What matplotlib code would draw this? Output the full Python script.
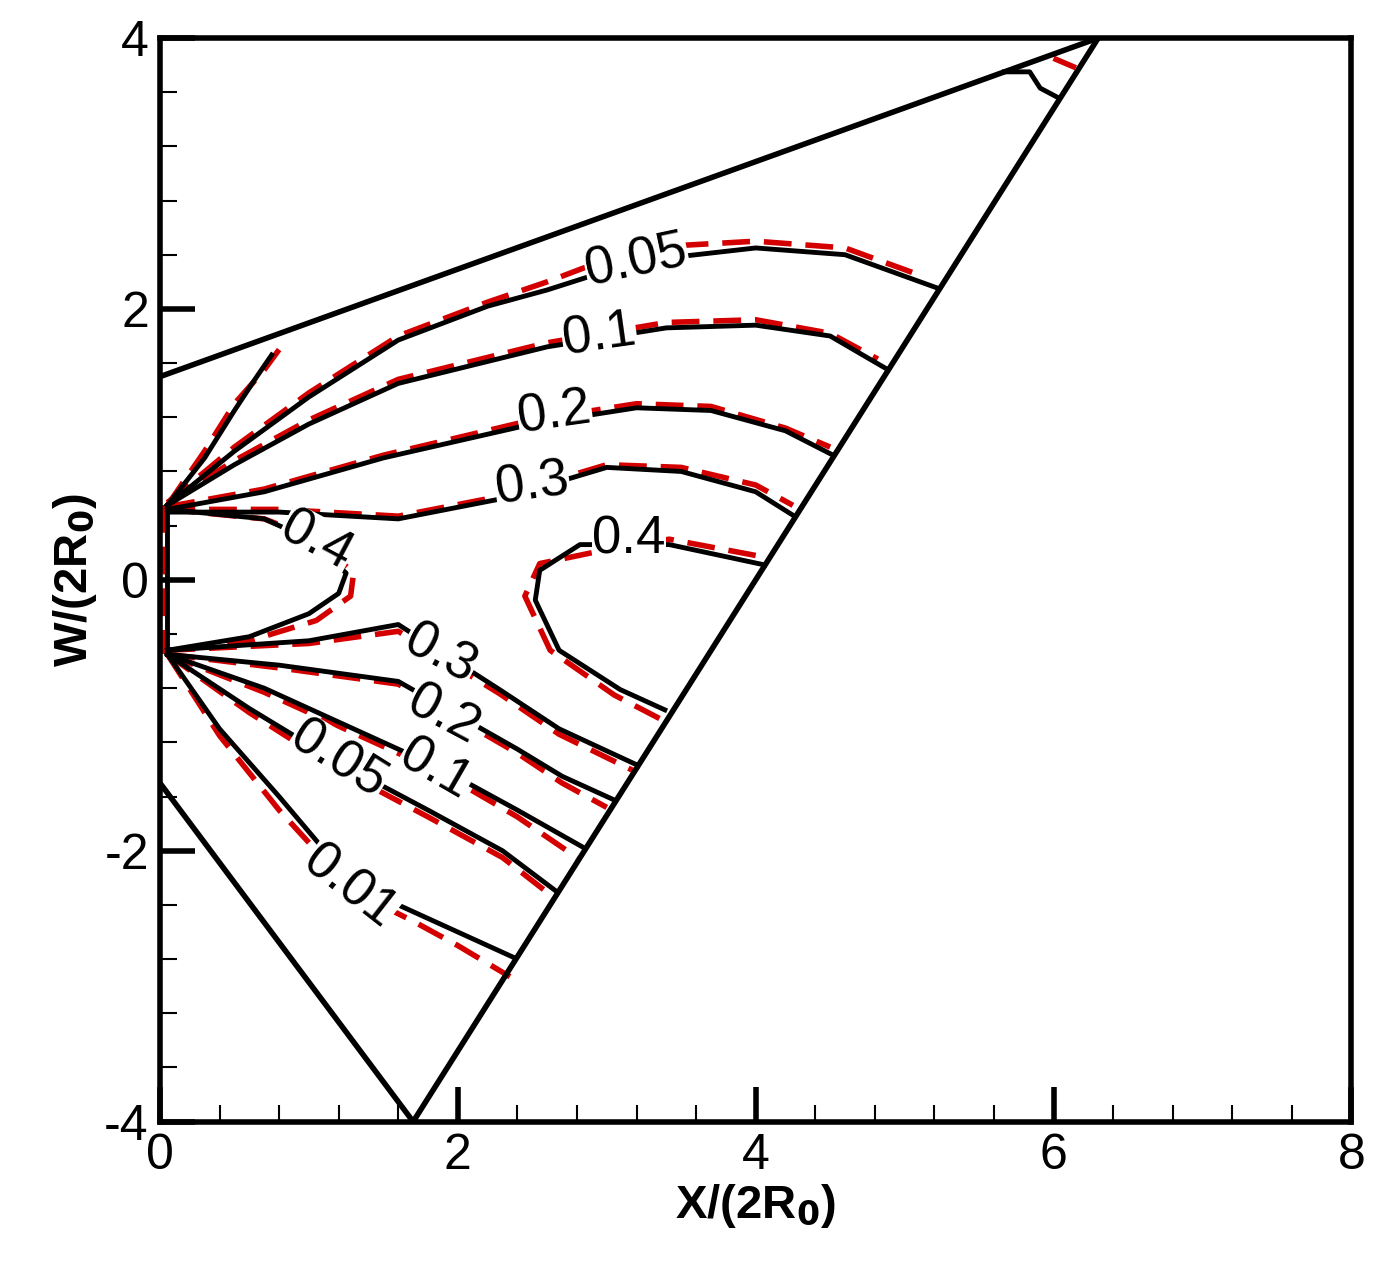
import matplotlib
matplotlib.use("Agg")
import matplotlib.pyplot as plt
from matplotlib.ticker import MultipleLocator

plt.rcParams['font.family'] = ['Liberation Sans', 'DejaVu Sans']
plt.rcParams['axes.unicode_minus'] = False

# boundary lines
bound_top = ([0.0, 6.3], [1.5, 4.0])
bound_right = ([1.7, 6.3], [-4.0, 4.0])
bound_left = ([0.0, 1.7], [-1.5, -4.0])

# black (solid) contour lines: name -> (x, y)
black = {
    "u0.01": ([0.05, 0.3, 0.5, 0.65, 0.75], [0.55, 0.9, 1.25, 1.5, 1.66]),
    "u0.05": ([0.05, 0.5, 1.0, 1.6, 2.2, 2.6, 3.2, 4.0, 4.6, 5.23], [0.55, 0.95, 1.35, 1.77, 2.02, 2.14, 2.35, 2.45, 2.4, 2.15]),
    "u0.1": ([0.05, 0.5, 1.0, 1.6, 2.6, 3.4, 4.0, 4.5, 4.89], [0.55, 0.85, 1.15, 1.45, 1.72, 1.86, 1.88, 1.8, 1.55]),
    "u0.2": ([0.05, 0.7, 1.5, 2.5, 3.2, 3.7, 4.2, 4.52], [0.52, 0.65, 0.9, 1.15, 1.27, 1.25, 1.1, 0.92]),
    "u0.3": ([0.05, 0.8, 1.6, 2.3, 3.0, 3.5, 4.0, 4.26], [0.5, 0.5, 0.45, 0.6, 0.83, 0.8, 0.65, 0.47]),
    "r0.4": ([4.06, 3.42, 2.82, 2.55, 2.52, 2.68, 3.09, 3.39], [0.11, 0.26, 0.26, 0.07, -0.15, -0.52, -0.81, -0.96]),
    "l0.4": ([0.05, 0.7, 1.0, 1.25, 1.2, 1.0, 0.6, 0.05], [0.52, 0.45, 0.3, 0.05, -0.1, -0.25, -0.42, -0.52]),
    "l0.3": ([0.05, 1.0, 1.6, 2.28, 2.68, 3.21], [-0.52, -0.45, -0.33, -0.81, -1.1, -1.37]),
    "l0.2": ([0.05, 0.8, 1.6, 2.4, 2.7, 3.04], [-0.55, -0.63, -0.75, -1.25, -1.45, -1.62]),
    "l0.1": ([0.05, 0.7, 1.3, 1.9, 2.4, 2.85], [-0.55, -0.8, -1.1, -1.4, -1.7, -1.98]),
    "l0.05": ([0.05, 0.6, 1.2, 1.8, 2.3, 2.65], [-0.55, -0.95, -1.35, -1.7, -2.0, -2.29]),
    "l0.01": ([0.05, 0.4, 0.8, 1.3, 1.7, 2.0, 2.38], [-0.55, -1.1, -1.6, -2.25, -2.45, -2.6, -2.79]),
    "corner": ([5.67, 5.84, 5.91, 6.03], [3.75, 3.75, 3.63, 3.56]),
    "wall": ([0.05, 0.05], [0.55, -0.55]),
}

# red (dashed) contour lines
red = {
    "u0.01": ([0.05, 0.3, 0.5, 0.7, 0.8], [0.55, 0.95, 1.3, 1.55, 1.7]),
    "u0.05": ([0.05, 0.5, 1.0, 1.6, 2.2, 2.6, 3.2, 4.0, 4.6, 5.1], [0.57, 0.98, 1.38, 1.8, 2.05, 2.2, 2.45, 2.5, 2.45, 2.25]),
    "u0.1": ([0.05, 0.5, 1.0, 1.6, 2.6, 3.4, 4.0, 4.5, 4.82], [0.57, 0.88, 1.18, 1.48, 1.75, 1.9, 1.92, 1.82, 1.63]),
    "u0.2": ([0.05, 0.7, 1.5, 2.5, 3.2, 3.7, 4.2, 4.5], [0.54, 0.67, 0.92, 1.18, 1.3, 1.28, 1.12, 0.98]),
    "u0.3": ([0.05, 0.8, 1.6, 2.3, 3.0, 3.5, 4.0, 4.25], [0.52, 0.52, 0.47, 0.62, 0.85, 0.83, 0.7, 0.55]),
    "r0.4": ([4.0, 3.42, 2.9, 2.55, 2.45, 2.62, 3.05, 3.4], [0.18, 0.3, 0.2, 0.12, -0.12, -0.52, -0.85, -1.05]),
    "l0.4": ([0.05, 0.7, 1.05, 1.3, 1.28, 1.05, 0.6, 0.05], [0.52, 0.45, 0.3, 0.05, -0.12, -0.3, -0.45, -0.52]),
    "l0.3": ([0.05, 1.0, 1.6, 2.28, 2.68, 3.2], [-0.52, -0.47, -0.38, -0.84, -1.14, -1.42]),
    "l0.2": ([0.05, 0.8, 1.6, 2.4, 2.7, 3.0], [-0.55, -0.65, -0.77, -1.28, -1.5, -1.68]),
    "l0.1": ([0.05, 0.7, 1.3, 1.9, 2.4, 2.8], [-0.55, -0.83, -1.13, -1.43, -1.75, -2.05]),
    "l0.05": ([0.05, 0.6, 1.2, 1.8, 2.3, 2.65], [-0.55, -0.98, -1.4, -1.75, -2.05, -2.35]),
    "l0.01": ([0.05, 0.4, 0.8, 1.3, 1.7, 2.0, 2.35], [-0.55, -1.15, -1.7, -2.3, -2.52, -2.7, -2.93]),
    "corner": ([6.0, 6.15], [3.85, 3.78]),
    "wall": ([0.03, 0.03], [0.55, -0.55]),
}

# contour labels: text, x, y, rotation
labels_text = ["0.05", "0.1", "0.2", "0.3", "0.4", "0.4", "0.3", "0.2", "0.1", "0.05", "0.01"]
labels_x = [3.2, 2.95, 2.65, 2.5, 3.15, 1.05, 1.88, 1.9, 1.85, 1.2, 1.27]
labels_y = [2.35, 1.8, 1.23, 0.7, 0.3, 0.28, -0.55, -1.0, -1.4, -1.33, -2.27]
labels_rot = [12, 8, 8, 8, 0, -28, -28, -28, -30, -32, -38]

fig = plt.figure(figsize=(13.79, 12.66), dpi=100)
ax = fig.add_axes([0.116, 0.114, 0.864, 0.856])

for b in (bound_top, bound_right, bound_left):
    ax.plot(b[0], b[1], color='black', lw=4, zorder=3)
for k, (xs, ys) in red.items():
    ax.plot(xs, ys, color='#d40000', lw=4, ls=(0, (5, 2.5)), zorder=2)
for k, (xs, ys) in black.items():
    ax.plot(xs, ys, color='black', lw=3.5, zorder=3)
for t, x, y, r in zip(labels_text, labels_x, labels_y, labels_rot):
    ax.text(x, y, t, fontsize=38, rotation=r, ha='center', va='center', zorder=4,
            bbox=dict(facecolor='white', edgecolor='none', pad=0.3))

ax.set_xlim(0, 8)
ax.set_ylim(-4, 4)
ax.xaxis.set_major_locator(MultipleLocator(2))
ax.xaxis.set_minor_locator(MultipleLocator(0.4))
ax.yaxis.set_major_locator(MultipleLocator(2))
ax.yaxis.set_minor_locator(MultipleLocator(0.4))
ax.tick_params(which='major', direction='in', length=25, width=4, labelsize=36, pad=8)
ax.tick_params(which='minor', direction='in', length=12, width=1.5)
for s in ax.spines.values():
    s.set_linewidth(4)
ax.set_xlabel(r'X/(2R$_\mathbf{0}$)', fontsize=34, fontweight='bold', labelpad=2)
ax.set_ylabel(r'W/(2R$_\mathbf{0}$)', fontsize=34, fontweight='bold', labelpad=4)
fig.savefig('out.png', dpi=100)
